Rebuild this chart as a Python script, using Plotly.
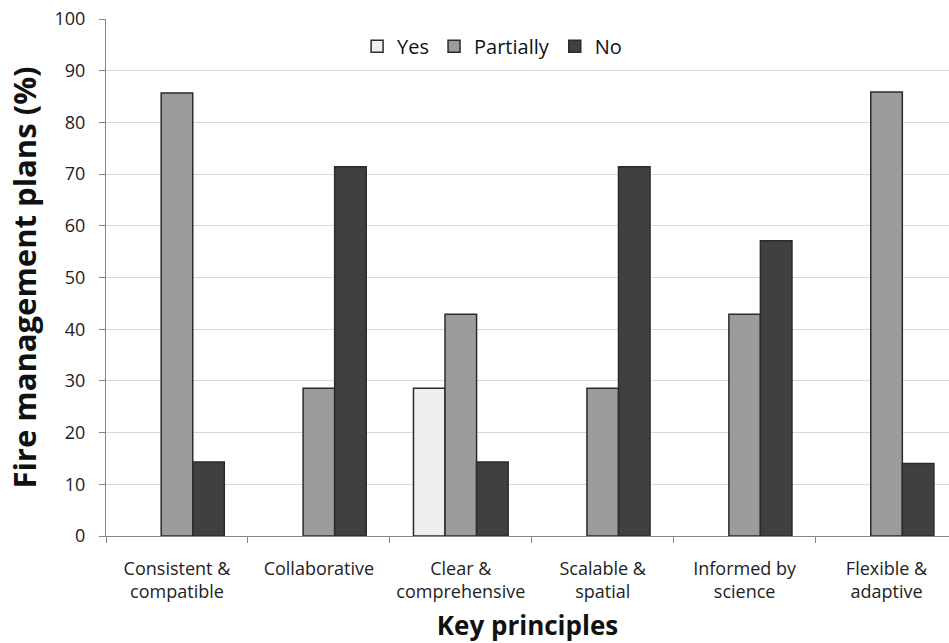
import plotly.graph_objects as go

# Share of fire management plans meeting each key principle
principles = ["Consistent &<br>compatible", "Collaborative", "Clear &<br>comprehensive",
              "Scalable &<br>spatial", "Informed by<br>science", "Flexible &<br>adaptive"]
yes = [0, 0, 28.6, 0, 0, 0]
partially = [85.7, 28.6, 42.9, 28.6, 42.9, 85.9]
no = [14.3, 71.4, 14.3, 71.4, 57.1, 14.0]

FONT = "Open Sans"
EDGE = dict(color="#2b2b2b", width=1.5)


def drawn(values):
    # empty bars are left out so their outline does not sit on the axis
    return [v if v > 0 else None for v in values]


fig = go.Figure()
fig.add_trace(go.Bar(name="Yes", x=principles, y=drawn(yes),
                     marker=dict(color="#efefef", line=EDGE)))
fig.add_trace(go.Bar(name="Partially", x=principles, y=drawn(partially),
                     marker=dict(color="#9c9c9c", line=EDGE)))
fig.add_trace(go.Bar(name="No", x=principles, y=drawn(no),
                     marker=dict(color="#404040", line=EDGE)))

fig.update_layout(
    width=949, height=643,
    margin=dict(l=106, r=0, t=19, b=107),
    paper_bgcolor="white", plot_bgcolor="white",
    barmode="group", bargap=0.333, bargroupgap=0,
    font=dict(family=FONT, color="#222222"),
    legend=dict(orientation="h", x=0.458, y=0.985, xanchor="center", yanchor="top",
                font=dict(size=20, family=FONT, color="#111111"),
                bgcolor="rgba(0,0,0,0)", itemwidth=30, traceorder="normal"),
    xaxis=dict(range=[-0.5, 5.44], tickson="boundaries", ticks="outside", ticklen=6,
               tickcolor="#868686", showline=True, linecolor="#868686", linewidth=1,
               ticklabelstandoff=16,
               tickfont=dict(size=18, family=FONT, color="#222222"),
               title=dict(text="<b>Key principles</b>", font=dict(size=26, family=FONT, color="#111111"),
                          standoff=17)),
    yaxis=dict(range=[0, 100], dtick=10, ticks="outside", ticklen=6, tickcolor="#868686",
               showline=True, linecolor="#868686", linewidth=1,
               showgrid=True, gridcolor="#d9d9d9", gridwidth=1, zeroline=False,
               ticklabelstandoff=10,
               tickfont=dict(size=18, family=FONT, color="#222222"),
               title=dict(text="<b>Fire management plans (%)</b>",
                          font=dict(size=31, family=FONT, color="#111111"), standoff=8)),
)

fig.write_html("out.html")
